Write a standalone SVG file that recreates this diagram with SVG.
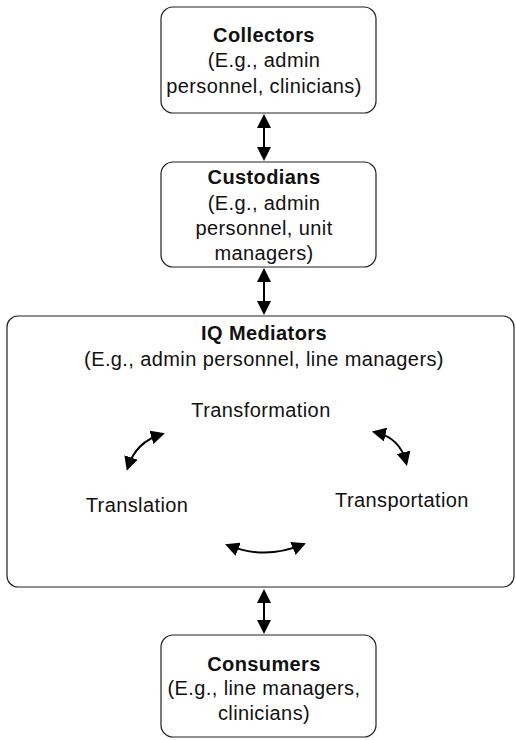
<svg xmlns="http://www.w3.org/2000/svg" width="516" height="740" viewBox="0 0 516 740">
<style>
  .box { fill: #ffffff; stroke: #222222; stroke-width: 1.2; }
  .t { font-family: "Liberation Sans", Arial, sans-serif; font-size: 20px; letter-spacing: 0.4px; fill: #111111; text-anchor: middle; }
  .b { font-weight: bold; }
  .c { fill: none; stroke: #000000; stroke-width: 2; }
</style>
<defs>
  <marker id="ah" markerUnits="userSpaceOnUse" markerWidth="14" markerHeight="14" refX="10" refY="7" orient="auto-start-reverse">
    <path d="M0,0 L14,7 L0,14 Z" fill="#000000"/>
  </marker>
</defs>
<rect width="516" height="740" fill="#ffffff"/>

<g id="collectors">
  <rect class="box" x="161" y="7" width="215" height="106" rx="12"/>
  <text class="t b" x="264" y="42">Collectors</text>
  <text class="t" x="264" y="67">(E.g., admin</text>
  <text class="t" x="264" y="93">personnel, clinicians)</text>
</g>

<g id="custodians">
  <rect class="box" x="161" y="162" width="215" height="105" rx="12"/>
  <text class="t b" x="264" y="184">Custodians</text>
  <text class="t" x="264" y="210">(E.g., admin</text>
  <text class="t" x="264" y="235">personnel, unit</text>
  <text class="t" x="264" y="260">managers)</text>
</g>

<g id="iq-mediators">
  <rect class="box" x="7" y="316" width="507" height="271" rx="11"/>
  <text class="t b" x="264" y="340">IQ Mediators</text>
  <text class="t" x="264" y="366">(E.g., admin personnel, line managers)</text>
</g>

<g id="transformation">
  <text class="t" x="261" y="417">Transformation</text>
</g>
<g id="translation">
  <text class="t" x="137" y="512">Translation</text>
</g>
<g id="transportation">
  <text class="t" x="402" y="507">Transportation</text>
</g>

<g id="consumers">
  <rect class="box" x="161" y="635" width="215" height="102" rx="12"/>
  <text class="t b" x="264" y="671">Consumers</text>
  <text class="t" x="264" y="695">(E.g., line managers,</text>
  <text class="t" x="264" y="720">clinicians)</text>
</g>

<g id="connectors">
  <line class="c" x1="264" y1="118" x2="264" y2="157" marker-start="url(#ah)" marker-end="url(#ah)"/>
  <line class="c" x1="264" y1="272" x2="264" y2="311" marker-start="url(#ah)" marker-end="url(#ah)"/>
  <line class="c" x1="264" y1="593" x2="264" y2="630" marker-start="url(#ah)" marker-end="url(#ah)"/>
  <path class="c" d="M128,467 Q136,442 161,434.5" marker-start="url(#ah)" marker-end="url(#ah)"/>
  <path class="c" d="M375.8,432.4 Q400,438 406,462" marker-start="url(#ah)" marker-end="url(#ah)"/>
  <path class="c" d="M228.8,545.6 Q265.5,560 302.2,544.7" marker-start="url(#ah)" marker-end="url(#ah)"/>
</g>
</svg>
